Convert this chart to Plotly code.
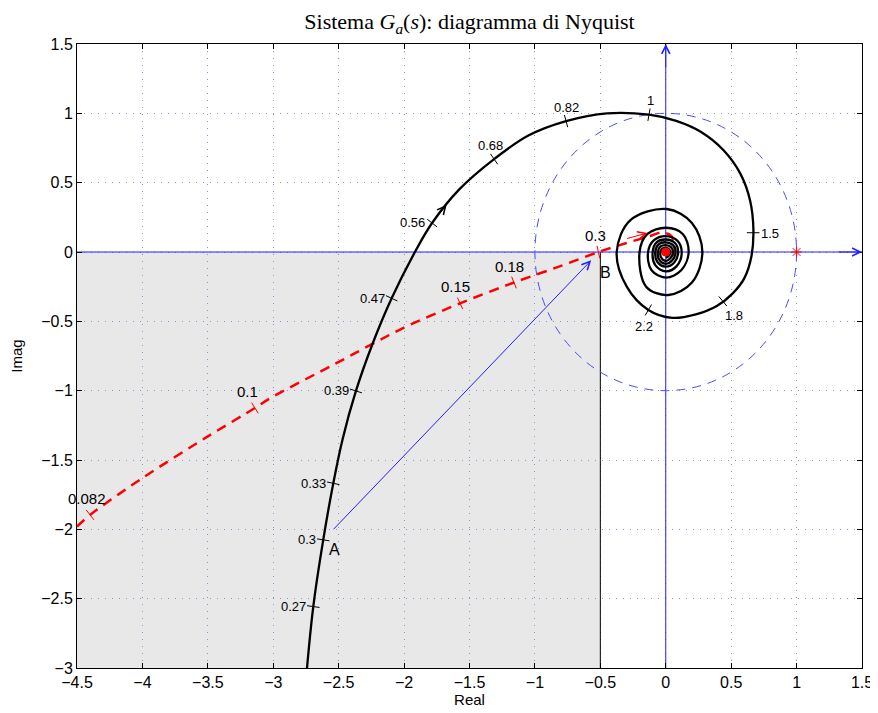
import plotly.graph_objects as go

# ---------------- data ----------------
# black Nyquist curve of G_a(jw)
black_re = [-2.742, -2.694, -2.618, -2.541, -2.47, -2.368, -2.24, -2.095, -1.917, -1.786,
            -1.58, -1.312, -1.05, -0.762, -0.45, -0.128, 0.08, 0.27, 0.44, 0.57,
            0.645, 0.67, 0.655, 0.6, 0.51, 0.39, 0.23, 0.05, -0.133, -0.298,
            -0.375, -0.27, 0.008, 0.2, 0.28, 0.2, 0.02, -0.15,
            -0.2, -0.14, 0.0, 0.13, 0.175, 0.12, 0.0, -0.11,
            -0.135, -0.09, 0.0, 0.09, 0.122, 0.085, 0.0, -0.08,
            -0.1, -0.07, 0.0, 0.07, 0.095, 0.065, 0.0, -0.065,
            -0.08, -0.055, 0.0, 0.055, 0.075, 0.05, 0.0, -0.05,
            -0.06, -0.04, 0.0, 0.04, 0.055, 0.035, 0.0, -0.035,
            -0.04, -0.025, 0.0, 0.025, 0.035, 0.02, 0.0]
black_im = [-3.0, -2.557, -2.076, -1.668, -1.35, -1.002, -0.66, -0.334, 0.0, 0.209,
            0.45, 0.67, 0.84, 0.944, 1.0, 0.99, 0.945, 0.865, 0.735, 0.565,
            0.37, 0.16, -0.03, -0.19, -0.3, -0.39, -0.45, -0.475, -0.418, -0.25,
            0.0, 0.23, 0.31, 0.21, 0.0, -0.22, -0.31, -0.25,
            0.0, 0.13, 0.175, 0.13, 0.0, -0.13, -0.185, -0.13,
            0.0, 0.085, 0.115, 0.08, 0.0, -0.1, -0.14, -0.095,
            0.0, 0.07, 0.09, 0.065, 0.0, -0.075, -0.105, -0.07,
            0.0, 0.055, 0.07, 0.05, 0.0, -0.06, -0.085, -0.055,
            0.0, 0.04, 0.05, 0.035, 0.0, -0.045, -0.065, -0.04,
            0.0, 0.025, 0.03, 0.02, 0.0, -0.03, -0.04]

# frequency marks on the black curve
black_w = ["0.27", "0.3", "0.33", "0.39", "0.47", "0.56", "0.68", "0.82", "1", "1.5", "1.8", "2.2"]
black_w_re = [-2.694, -2.618, -2.541, -2.368, -2.095, -1.786, -1.312, -0.762, -0.128, 0.668, 0.436, -0.133]
black_w_im = [-2.557, -2.076, -1.668, -1.002, -0.334, 0.209, 0.67, 0.944, 0.99, 0.139, -0.355, -0.418]

# red dashed curve
red_re = [-4.5, -4.4, -4.0, -3.5, -3.14, -3.025, -2.528, -2.0, -1.572, -1.16, -0.8, -0.515,
          -0.3, -0.12, -0.04, 0.03, 0.065, 0.07, 0.05]
red_im = [-1.98, -1.896, -1.63, -1.33, -1.125, -1.055, -0.807, -0.545, -0.37, -0.22, -0.1, 0.0,
          0.065, 0.115, 0.14, 0.125, 0.08, 0.02, -0.03]

red_w = ["0.082", "0.1", "0.15", "0.18", "0.3"]
red_w_re = [-4.4, -3.14, -1.572, -1.16, -0.515]
red_w_im = [-1.896, -1.125, -0.37, -0.22, 0.0]

point_A = (-2.55, -2.01)
point_B = (-0.57, -0.06)
critical = (1.0, 0.0)

x_ticks = [-4.5, -4, -3.5, -3, -2.5, -2, -1.5, -1, -0.5, 0, 0.5, 1, 1.5]
y_ticks = [-3, -2.5, -2, -1.5, -1, -0.5, 0, 0.5, 1, 1.5]

# ---------------- styles ----------------
BLUE = "#1f1fff"
SANS = "Liberation Sans, Arial, sans-serif"
black_tick_angle = [-82, -81, -78, -72, -65, -52, -35, -15, 10, 90, 140, 210]
black_lab_pos = [("right", "middle", -5, 0), ("right", "middle", -5, 0), ("right", "middle", -5, 0),
                 ("right", "middle", -5, 0), ("right", "middle", -5, 0), ("right", "middle", -5, 1),
                 ("center", "bottom", -4, 4), ("center", "bottom", 0, 4), ("center", "bottom", 1, 5),
                 ("left", "middle", 6, -1), ("left", "top", 0, -5), ("center", "top", -4, -7)]
red_tick_angle = [-38, -32, -25, -22, -12]
red_lab_pos = [("center", "bottom", -3, 6), ("center", "bottom", -7, 6), ("center", "bottom", -5, 6),
               ("center", "bottom", -4, 6), ("center", "bottom", -3, 6)]

fig = go.Figure()

# shaded region and reference lines
fig.add_shape(type="rect", x0=-4.5, x1=-0.5, y0=-3, y1=0, fillcolor="#e8e8e8",
              line=dict(width=0), layer="below")
fig.add_shape(type="line", x0=-0.5, x1=-0.5, y0=-3, y1=0, line=dict(color="black", width=1), layer="between")
fig.add_shape(type="line", x0=-4.5, x1=1.5, y0=0, y1=0, line=dict(color=BLUE, width=1), layer="between")
fig.add_shape(type="line", x0=0, x1=0, y0=-3, y1=1.5, line=dict(color=BLUE, width=1), layer="between")
fig.add_shape(type="circle", x0=-1, x1=1, y0=-1, y1=1,
              line=dict(color="#4a4aff", width=1, dash="9px,7px"), layer="between")

# curves
fig.add_trace(go.Scatter(x=red_re, y=red_im, mode="lines",
                         line=dict(color="#ff0000", width=2.5, dash="10px,7px", shape="spline", smoothing=0.8),
                         hoverinfo="skip", showlegend=False))
fig.add_trace(go.Scatter(x=black_re, y=black_im, mode="lines",
                         line=dict(color="black", width=2.3, shape="spline", smoothing=1.0),
                         hoverinfo="skip", showlegend=False))
# red centre blob
fig.add_trace(go.Scatter(x=[0.0], y=[0.0], mode="markers",
                         marker=dict(color="#ff0000", size=9), hoverinfo="skip", showlegend=False))

# frequency tick marks
fig.add_trace(go.Scatter(x=black_w_re, y=black_w_im, mode="markers",
                         marker=dict(symbol="line-ns", size=9, angle=black_tick_angle, color="black",
                                     line=dict(color="black", width=1)),
                         hoverinfo="skip", showlegend=False))
fig.add_trace(go.Scatter(x=red_w_re, y=red_w_im, mode="markers",
                         marker=dict(symbol="line-ns", size=9, angle=red_tick_angle, color="#ff0000",
                                     line=dict(color="#ff0000", width=1)),
                         hoverinfo="skip", showlegend=False))
# critical point
fig.add_trace(go.Scatter(x=[critical[0]], y=[critical[1]], mode="markers",
                         marker=dict(symbol="asterisk-open", size=9, color="#ff0000",
                                     line=dict(color="#ff0000", width=1)),
                         hoverinfo="skip", showlegend=False))

ann = []
for lab, xr, yi, (xa, ya, xs, ys) in zip(black_w, black_w_re, black_w_im, black_lab_pos):
    ann.append(dict(x=xr, y=yi, text=lab, showarrow=False, xanchor=xa, yanchor=ya,
                    xshift=xs, yshift=ys, font=dict(family=SANS, size=13, color="black")))
for lab, xr, yi, (xa, ya, xs, ys) in zip(red_w, red_w_re, red_w_im, red_lab_pos):
    ann.append(dict(x=xr, y=yi, text=lab, showarrow=False, xanchor=xa, yanchor=ya,
                    xshift=xs, yshift=ys, font=dict(family=SANS, size=15, color="black")))

# A -> B vector
ann.append(dict(x=point_B[0], y=point_B[1], ax=point_A[0], ay=point_A[1], axref="x", ayref="y",
                xref="x", yref="y", text="", showarrow=True, arrowhead=5, arrowsize=1.6,
                arrowwidth=1, arrowcolor=BLUE))
ann.append(dict(x=point_A[0], y=point_A[1], text="A", showarrow=False, xanchor="center", yanchor="top",
                xshift=2, yshift=-8, font=dict(family=SANS, size=16, color="black")))
ann.append(dict(x=point_B[0], y=point_B[1], text="B", showarrow=False, xanchor="left", yanchor="top",
                xshift=7, yshift=-2, font=dict(family=SANS, size=16, color="black")))
# axis arrows
ann.append(dict(x=1.5, y=0, ax=-25, ay=0, text="", showarrow=True, arrowhead=5, arrowsize=1.6,
                arrowwidth=1, arrowcolor=BLUE))
ann.append(dict(x=0, y=1.5, ax=0, ay=25, text="", showarrow=True, arrowhead=5, arrowsize=1.6,
                arrowwidth=1, arrowcolor=BLUE))
# direction arrows on curves
ann.append(dict(x=-1.675, y=0.34, ax=-10, ay=12, text="", showarrow=True, arrowhead=5, arrowsize=1.6,
                arrowwidth=1, arrowcolor="black"))
ann.append(dict(x=-0.14, y=0.137, ax=-22, ay=6, text="", showarrow=True, arrowhead=5, arrowsize=1.6,
                arrowwidth=1, arrowcolor="#ff0000"))

axis_common = dict(showline=True, linecolor="black", linewidth=1, mirror="ticks", ticks="inside",
                   ticklen=5, tickcolor="black", showgrid=True, gridcolor="#8f8fcf", gridwidth=1,
                   griddash="1px,6px", zeroline=False, automargin=False,
                   tickfont=dict(family=SANS, size=16, color="black"))

# the page adds an 8px body margin, so the figure is sized to fit the 878x713 window
fig.update_layout(
    width=870, height=705,
    margin=dict(l=69, r=16, t=36, b=45, autoexpand=False),
    paper_bgcolor="white", plot_bgcolor="white",
    title=dict(text="Sistema <i>G<sub>a</sub></i>(<i>s</i>): diagramma di Nyquist",
               x=0.5, xanchor="center", xref="paper", y=0.981, yanchor="middle", automargin=False,
               font=dict(family="Liberation Serif, Times New Roman, serif", size=22, color="black")),
    xaxis=dict(range=[-4.5, 1.5], tickvals=x_ticks, **axis_common,
               title=dict(text="Real", standoff=3,
                          font=dict(family=SANS, size=15, color="black"))),
    yaxis=dict(range=[-3, 1.5], tickvals=y_ticks, **axis_common,
               title=dict(text="Imag", standoff=16,
                          font=dict(family=SANS, size=15, color="black"))),
    annotations=ann,
    font=dict(family=SANS),
)

fig.write_html("out.html")
